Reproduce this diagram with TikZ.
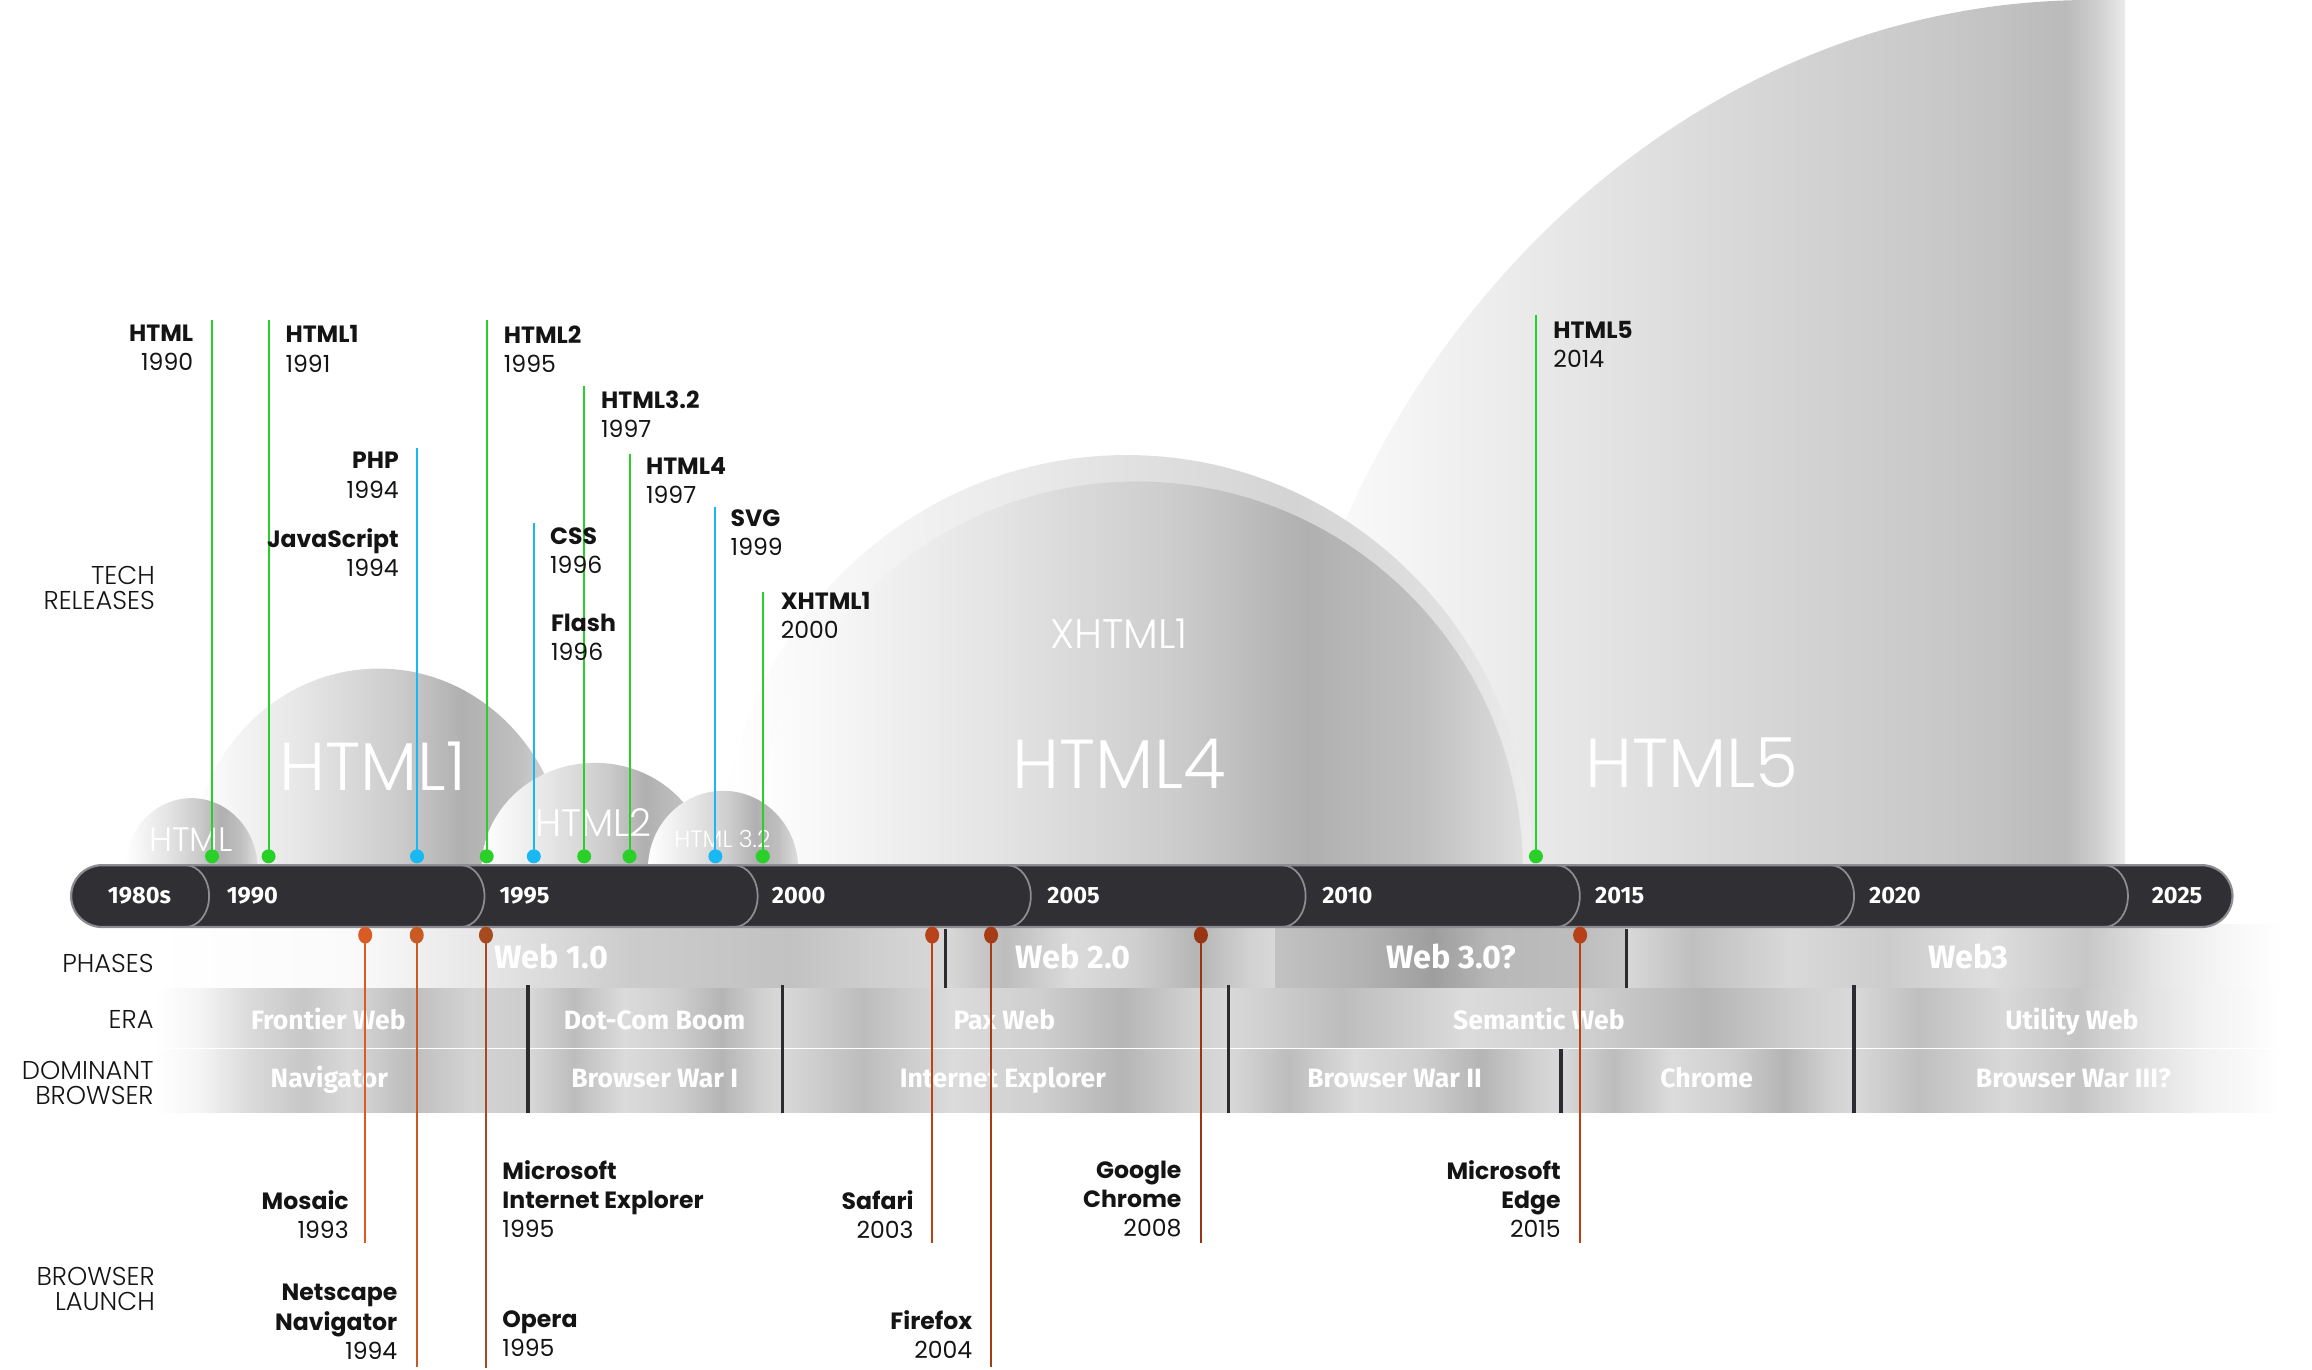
\documentclass[tikz,border=0pt]{standalone}
\usepackage{fontspec}
\setmainfont{Poppins}
\IfFontExistsTF{Poppins Light}{\newfontfamily\lightf{Poppins Light}}{\newfontfamily\lightf{Poppins}}
\newfontfamily\barf{Fira Sans}
\usetikzlibrary{shapes.geometric}
\definecolor{grn}{RGB}{40,208,40}
\definecolor{blu}{RGB}{24,184,242}
\definecolor{barc}{RGB}{48,47,52}
\definecolor{barline}{RGB}{140,140,146}
\definecolor{divc}{RGB}{44,44,48}
\definecolor{txt}{RGB}{20,20,20}
\definecolor{oMosc}{RGB}{218,92,36}
\definecolor{oNetc}{RGB}{200,90,34}
\definecolor{oIEc}{RGB}{168,74,32}
\definecolor{oSafc}{RGB}{184,66,26}
\definecolor{oFirc}{RGB}{166,60,22}
\definecolor{oChrc}{RGB}{152,54,20}
\definecolor{oEdgc}{RGB}{184,64,24}
% path bounding box maps to 25bp..75bp of each shading
\pgfdeclarehorizontalshading{metal}{100bp}{color(0bp)=(black!15); color(25bp)=(black!15); color(34bp)=(black!26); color(44bp)=(black!14); color(54bp)=(black!19); color(63bp)=(black!29); color(71bp)=(black!18); color(75bp)=(black!15); color(100bp)=(black!15)}
\pgfdeclarehorizontalshading{metalL}{100bp}{color(0bp)=(white); color(25bp)=(white); color(31bp)=(black!4); color(37.5bp)=(black!14); color(45bp)=(black!22); color(51bp)=(black!15); color(59bp)=(black!26); color(67.5bp)=(black!17); color(75bp)=(black!20); color(100bp)=(black!20)}
\pgfdeclarehorizontalshading{metalR}{100bp}{color(0bp)=(black!15); color(25bp)=(black!15); color(32.5bp)=(black!25); color(42.5bp)=(black!15); color(51bp)=(black!23); color(59bp)=(black!12); color(66bp)=(black!5); color(75bp)=(white); color(100bp)=(white)}
\pgfdeclarehorizontalshading{metalRW}{100bp}{color(0bp)=(black!15); color(25bp)=(black!15); color(30bp)=(black!25); color(37.5bp)=(black!15); color(45bp)=(black!20); color(52.5bp)=(black!13); color(60bp)=(black!22); color(66bp)=(black!9); color(71bp)=(black!3); color(75bp)=(white); color(100bp)=(white)}
\pgfdeclarehorizontalshading{metalD}{100bp}{color(0bp)=(black!24); color(25bp)=(black!24); color(37.5bp)=(black!30); color(47.5bp)=(black!38); color(56bp)=(black!28); color(67.5bp)=(black!26); color(75bp)=(black!22); color(100bp)=(black!22)}
\pgfdeclarehorizontalshading{phaseA}{100bp}{color(0bp)=(white); color(25bp)=(white); color(37.5bp)=(black!2); color(46bp)=(black!10); color(55bp)=(black!20); color(65bp)=(black!24); color(75bp)=(black!15); color(100bp)=(black!15)}
\pgfdeclarehorizontalshading{dome}{100bp}{color(0bp)=(white); color(25bp)=(white); color(40bp)=(black!10); color(52.5bp)=(black!20); color(61bp)=(black!31); color(68.5bp)=(black!25); color(75bp)=(black!13); color(100bp)=(black!13)}
\pgfdeclarehorizontalshading{domeO}{100bp}{color(0bp)=(white); color(25bp)=(white); color(45bp)=(black!9); color(60bp)=(black!17); color(70bp)=(black!12); color(75bp)=(black!7); color(100bp)=(black!7)}
\pgfdeclarehorizontalshading{hfive}{100bp}{color(0bp)=(white); color(25bp)=(white); color(36bp)=(black!6); color(50bp)=(black!14); color(65bp)=(black!22); color(71.5bp)=(black!27); color(73.5bp)=(black!18); color(75bp)=(black!8); color(100bp)=(black!8)}
\begin{document}
\begin{tikzpicture}[x=1pt,y=-1pt,
  tlab/.style={font=\fontsize{16}{19.8}\selectfont, inner sep=0pt, text=txt},
  tlabR/.style={tlab, align=right, anchor=north east},
  tlabL/.style={tlab, align=left, anchor=north west},
  catlab/.style={font=\lightf\fontsize{17.5}{17}\selectfont, align=right, anchor=north east, inner sep=0pt, text=txt},
  domelab/.style={text=white, inner sep=0pt, anchor=base},
  phlab/.style={font=\barf\bfseries\fontsize{22}{22}\selectfont, text=white, inner sep=0pt, anchor=base},
  erlab/.style={font=\barf\bfseries\fontsize{18}{18}\selectfont, text=white, inner sep=0pt, anchor=base},
  barlab/.style={font=\barf\bfseries\fontsize{16}{16}\selectfont, text=white, inner sep=0pt, anchor=base west},
  gdot/.style={circle, fill=grn, minimum size=9.5pt, inner sep=0pt},
  bdot/.style={circle, fill=blu, minimum size=9.5pt, inner sep=0pt},
  odot/.style={ellipse, minimum width=9.5pt, minimum height=11.5pt, inner sep=0pt},
  gline/.style={grn, line width=1.3pt},
  bline/.style={blu, line width=1.3pt},
  oline/.style={line width=1.3pt},
  divider/.style={divc, line width=2.2pt}
]
\useasboundingbox (0,0) rectangle (1570,930.3);

% ---------- domes ----------
\shade[shading=hfive] (862,590) .. controls (862,300) and (1100,0) .. (1420,0) -- (1443,0) -- (1443,590) -- cycle;
\shade[shading=domeO] (489,590) arc[start angle=180,end angle=360,x radius=276,y radius=281] -- cycle;
\shade[shading=dome] (510,590) arc[start angle=180,end angle=360,x radius=262,y radius=263] -- cycle;
\shade[shading=dome] (129,590) arc[start angle=180,end angle=360,x radius=128,y radius=136] -- cycle;
\shade[shading=dome] (327,590) arc[start angle=180,end angle=360,x radius=77,y radius=72] -- cycle;
\shade[shading=dome] (440,590) arc[start angle=180,end angle=360,x radius=51,y radius=53] -- cycle;
\shade[shading=dome] (85,590) arc[start angle=180,end angle=360,x radius=45,y radius=48] -- cycle;

\node[domelab, font=\lightf\fontsize{47}{47}\selectfont] (dHTMLfive) at (1149,534.5) {HTML5};
\node[domelab, font=\lightf\fontsize{28}{28}\selectfont] (dXHTML) at (760,440.5) {XHTML1};
\node[domelab, font=\lightf\fontsize{47}{47}\selectfont] (dHTMLfour) at (760,535.5) {HTML4};
\node[domelab, font=\lightf\fontsize{46}{46}\selectfont] (dHTMLone) at (253,536.5) {HTML1};
\node[domelab, font=\lightf\fontsize{26}{26}\selectfont] (dHTMLtwo) at (403,568.2) {HTML2};
\node[domelab, font=\lightf\fontsize{16}{16}\selectfont] (dHTMLtt) at (490.6,575.6) {HTML 3.2};
\node[domelab, font=\lightf\fontsize{23}{23}\selectfont] (dHTML) at (129.6,578) {HTML};

% ---------- bands ----------
\shade[shading=phaseA] (105,628) rectangle (642,671);
\shade[shading=metal] (642,628) rectangle (866,671);
\shade[shading=metalD] (866,628) rectangle (1104.5,671);
\shade[shading=metalRW] (1104.5,628) rectangle (1550,671);

\shade[shading=metalL] (105,671) rectangle (358.6,711.5);
\shade[shading=metal] (358.6,671) rectangle (531.4,711.5);
\shade[shading=metal] (531.4,671) rectangle (834,711.5);
\shade[shading=metal] (834,671) rectangle (1259,711.5);
\shade[shading=metalR] (1259,671) rectangle (1550,711.5);

\shade[shading=metalL] (105,713) rectangle (358.6,755.5);
\shade[shading=metal] (358.6,713) rectangle (531.4,755.5);
\shade[shading=metal] (531.4,713) rectangle (834,755.5);
\shade[shading=metal] (834,713) rectangle (1060,755.5);
\shade[shading=metal] (1060,713) rectangle (1259,755.5);
\shade[shading=metalR] (1259,713) rectangle (1550,755.5);

\draw[divider] (642,631) -- (642,671);
\draw[divider] (1104.5,631) -- (1104.5,671);
\draw[divider] (358.6,669) -- (358.6,756);
\draw[divider] (531.4,669) -- (531.4,756);
\draw[divider] (834,669) -- (834,756);
\draw[divider] (1259,669) -- (1259,756);
\draw[divider] (1060,712) -- (1060,756);

\node[phlab] (pA) at (374.4,657.6) {Web 1.0};
\node[phlab] (pB) at (728.8,657.6) {Web 2.0};
\node[phlab] (pC) at (985.5,657.6) {Web 3.0?};
\node[phlab] (pD) at (1336.6,657.6) {Web3};

\node[erlab] (eA) at (223,698.8) {Frontier Web};
\node[erlab] (eB) at (444.5,698.8) {Dot-Com Boom};
\node[erlab] (eC) at (682,698.8) {Pax Web};
\node[erlab] (eD) at (1045,698.8) {Semantic Web};
\node[erlab] (eE) at (1407,698.8) {Utility Web};

\node[erlab] (wA) at (223.6,738.5) {Navigator};
\node[erlab] (wB) at (444.6,738.5) {Browser War I};
\node[erlab] (wC) at (681,738.5) {Internet Explorer};
\node[erlab] (wD) at (947,738.5) {Browser War II};
\node[erlab] (wE) at (1159,738.5) {Chrome};
\node[erlab] (wF) at (1408,738.5) {Browser War III?};

% ---------- timeline bar ----------
\draw[fill=barc, draw=barline, line width=1.5pt, rounded corners=21pt] (48.3,587.5) rectangle (1516,629.5);
\foreach \x in {142,329,514.5,700,886.6,1072.8,1259,1445}
  \draw[barline, line width=1.2pt] (\x-16,587.5) .. controls (\x-7,587.5) and (\x,597) .. (\x,608.5) .. controls (\x,620) and (\x-7,629.5) .. (\x-16,629.5);

\node[barlab, anchor=base] (yA) at (94.7,613.3) {1980s};
\node[barlab] (yB) at (153.8,613.3) {1990};
\node[barlab] (yC) at (339,613.3) {1995};
\node[barlab] (yD) at (524,613.3) {2000};
\node[barlab] (yE) at (711,613.3) {2005};
\node[barlab] (yF) at (897.7,613.3) {2010};
\node[barlab] (yG) at (1083,613.3) {2015};
\node[barlab] (yH) at (1269,613.3) {2020};
\node[barlab] (yI) at (1461,613.3) {2025};

% ---------- tech release stems ----------
\coordinate (tHTML) at (144,217);
\coordinate (tHTMLone) at (182.4,217);
\coordinate (tPHP) at (283.2,304);
\coordinate (tHTMLtwo) at (330.5,217);
\coordinate (tCSS) at (362.5,355);
\coordinate (tHTMLtt) at (396.7,262);
\coordinate (tHTMLfour) at (427.5,308);
\coordinate (tSVG) at (485.8,344);
\coordinate (tXHTML) at (518,401.7);
\coordinate (tHTMLfive) at (1043,214);

\node[gdot] (gHTML) at (144,581.5) {};
\node[gdot] (gHTMLone) at (182.4,581.5) {};
\node[bdot] (gPHP) at (283.2,581.5) {};
\node[gdot] (gHTMLtwo) at (330.5,581.5) {};
\node[bdot] (gCSS) at (362.5,581.5) {};
\node[gdot] (gHTMLtt) at (396.7,581.5) {};
\node[gdot] (gHTMLfour) at (427.5,581.5) {};
\node[bdot] (gSVG) at (485.8,581.5) {};
\node[gdot] (gXHTML) at (518,581.5) {};
\node[gdot] (gHTMLfive) at (1043,581.5) {};

\draw[gline] (tHTML) -- (gHTML.center);
\draw[gline] (tHTMLone) -- (gHTMLone.center);
\draw[bline] (tPHP) -- (gPHP.center);
\draw[gline] (tHTMLtwo) -- (gHTMLtwo.center);
\draw[bline] (tCSS) -- (gCSS.center);
\draw[gline] (tHTMLtt) -- (gHTMLtt.center);
\draw[gline] (tHTMLfour) -- (gHTMLfour.center);
\draw[bline] (tSVG) -- (gSVG.center);
\draw[gline] (tXHTML) -- (gXHTML.center);
\draw[gline] (tHTMLfive) -- (gHTMLfive.center);

\node[tlabR] (lHTML) at (131.4,220.5) {\textbf{HTML}\\1990};
\node[tlabL] (lHTMLone) at (193.7,221) {\textbf{HTML1}\\1991};
\node[tlabL] (lHTMLtwo) at (342,221) {\textbf{HTML2}\\1995};
\node[tlabL] (lHTMLtt) at (408,265) {\textbf{HTML3.2}\\1997};
\node[tlabR] (lPHP) at (271,307) {\textbf{PHP}\\1994};
\node[tlabR] (lJS) at (271,359) {\textbf{JavaScript}\\1994};
\node[tlabL] (lHTMLfour) at (438.5,310.5) {\textbf{HTML4}\\1997};
\node[tlabL] (lCSS) at (373.4,358) {\textbf{CSS}\\1996};
\node[tlabL] (lFlash) at (374,417) {\textbf{Flash}\\1996};
\node[tlabL] (lSVG) at (496,346) {\textbf{SVG}\\1999};
\node[tlabL] (lXHTML) at (530,402) {\textbf{XHTML1}\\2000};
\node[tlabL] (lHTMLfive) at (1054.7,218) {\textbf{HTML5}\\2014};

% ---------- browser launch stems ----------
\coordinate (bMos) at (248,844);
\coordinate (bNet) at (283,928);
\coordinate (bIE) at (330,929);
\coordinate (bSaf) at (633,844);
\coordinate (bFir) at (673,928);
\coordinate (bChr) at (815.5,844);
\coordinate (bEdg) at (1073,844);

\node[odot, fill=oMosc] (oMos) at (248,635) {};
\node[odot, fill=oNetc] (oNet) at (283,635) {};
\node[odot, fill=oIEc] (oIE) at (330,635) {};
\node[odot, fill=oSafc] (oSaf) at (633,635) {};
\node[odot, fill=oFirc] (oFir) at (673,635) {};
\node[odot, fill=oChrc] (oChr) at (815.5,635) {};
\node[odot, fill=oEdgc] (oEdg) at (1073,635) {};

\draw[oline, oMosc] (oMos.center) -- (bMos);
\draw[oline, oNetc] (oNet.center) -- (bNet);
\draw[oline, oIEc] (oIE.center) -- (bIE);
\draw[oline, oSafc] (oSaf.center) -- (bSaf);
\draw[oline, oFirc] (oFir.center) -- (bFir);
\draw[oline, oChrc] (oChr.center) -- (bChr);
\draw[oline, oEdgc] (oEdg.center) -- (bEdg);

\node[tlabR] (lMos) at (237,808) {\textbf{Mosaic}\\1993};
\node[tlabR] (lNet) at (270,872) {\textbf{Netscape}\\\textbf{Navigator}\\1994};
\node[tlabL] (lIE) at (341,788) {\textbf{Microsoft}\\\textbf{Internet Explorer}\\1995};
\node[tlabL] (lOpe) at (341,890) {\textbf{Opera}\\1995};
\node[tlabR] (lSaf) at (620.6,808) {\textbf{Safari}\\2003};
\node[tlabR] (lFir) at (660.4,890) {\textbf{Firefox}\\2004};
\node[tlabR] (lChr) at (802.5,788) {\textbf{Google}\\\textbf{Chrome}\\2008};
\node[tlabR] (lEdg) at (1060,788) {\textbf{Microsoft}\\\textbf{Edge}\\2015};

% ---------- row captions ----------
\node[catlab] (cTech) at (105.3,384) {TECH\\RELEASES};
\node[catlab] (cPhase) at (104.5,647.5) {PHASES};
\node[catlab] (cEra) at (104.5,686) {ERA};
\node[catlab] (cDom) at (104.5,720.5) {DOMINANT\\BROWSER};
\node[catlab] (cLaunch) at (105.3,860.4) {BROWSER\\LAUNCH};
\end{tikzpicture}
\end{document}
